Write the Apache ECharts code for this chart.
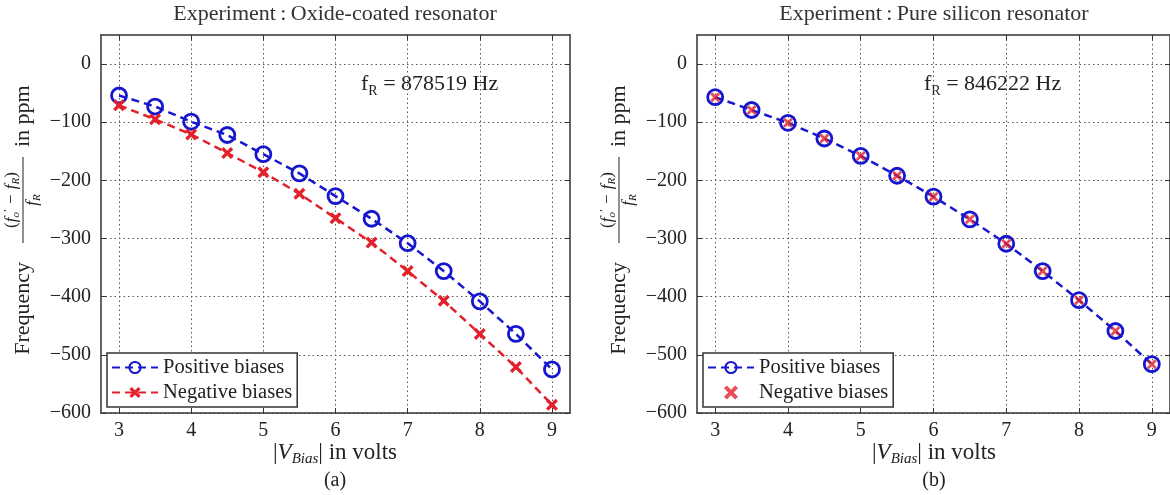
<!DOCTYPE html>
<html>
<head>
<meta charset="utf-8">
<script src="https://cdn.jsdelivr.net/npm/echarts@6/dist/echarts.min.js"></script>
<style>html,body{margin:0;padding:0;background:#fff}#c{width:1170px;height:495px}</style>
</head>
<body>
<div id="c"></div>
<script>
// ---- data ----
var vBias = [3, 3.5, 4, 4.5, 5, 5.5, 6, 6.5, 7, 7.5, 8, 8.5, 9];
var oxidePositive = [-54, -73, -99, -122, -155, -188, -227, -266, -308, -356, -408, -464, -525];
var oxideNegative = [-71, -95, -121, -153, -186, -223, -265, -307, -356, -407, -464, -521, -586];
var siliconPositive = [-57, -79, -101, -128, -158, -192, -228, -267, -309, -356, -406, -459, -516];
var siliconNegative = [-57, -79, -101, -128, -158, -192, -228, -267, -309, -356, -406, -459, -516];
var xTicks = [3, 4, 5, 6, 7, 8, 9];
var yTicks = [-600, -500, -400, -300, -200, -100, 0];
var titles = ['Experiment\u2009:\u2009Oxide-coated resonator', 'Experiment\u2009:\u2009Pure silicon resonator'];
var fRLabels = ['878519', '846222'];
var panelLabels = ['(a)', '(b)'];

// ---- styles ----
var FONT = 'Liberation Serif';
var BLUE = '#1616cf';
var RED = '#e3212a';
var XPATH = 'path://M0,2 L2,0 L5,3 L8,0 L10,2 L7,5 L10,8 L8,10 L5,7 L2,10 L0,8 L3,5 Z';
function pair(xs, ys) { return xs.map(function (x, i) { return [x, ys[i]]; }); }
function minus(v) { return String(v).replace('-', '\u2212'); }

var grids = [
  { left: 101, top: 35, width: 469, height: 378 },
  { left: 697, top: 35, width: 475, height: 378 }
];

var xAxes = [], yAxes = [];
grids.forEach(function (g, gi) {
  xAxes.push({
    type: 'value', gridIndex: gi, min: 2.75, max: 9.25, position: 'bottom',
    axisLine: { show: true, onZero: false, lineStyle: { color: '#333', width: 1.5 } },
    axisTick: { show: true, inside: true, length: 5, customValues: xTicks, lineStyle: { color: '#333' } },
    axisLabel: { customValues: xTicks, fontFamily: FONT, fontSize: 20, color: '#222', margin: 8 },
    splitLine: { show: true, lineStyle: { type: [1.5, 3], color: '#555', width: 1 } }
  });
  xAxes.push({
    type: 'value', gridIndex: gi, min: 2.75, max: 9.25, position: 'top',
    axisLine: { show: true, onZero: false, lineStyle: { color: '#333', width: 1.5 } },
    axisTick: { show: true, inside: true, length: 5, customValues: xTicks, lineStyle: { color: '#333' } },
    axisLabel: { show: false }, splitLine: { show: false }
  });
  yAxes.push({
    type: 'value', gridIndex: gi, min: -600, max: 50, position: 'left',
    axisLine: { show: true, onZero: false, lineStyle: { color: '#333', width: 1.5 } },
    axisTick: { show: true, inside: true, length: 5, customValues: yTicks, lineStyle: { color: '#333' } },
    axisLabel: { customValues: yTicks, fontFamily: FONT, fontSize: 20, color: '#222', margin: 10, formatter: minus },
    splitLine: { show: true, lineStyle: { type: [1.5, 3], color: '#555', width: 1 } }
  });
  yAxes.push({
    type: 'value', gridIndex: gi, min: -600, max: 50, position: 'right',
    axisLine: { show: true, onZero: false, lineStyle: { color: '#333', width: 1.5 } },
    axisTick: { show: true, inside: true, length: 5, customValues: yTicks, lineStyle: { color: '#333' } },
    axisLabel: { show: false }, splitLine: { show: false }
  });
});

function posSeries(name, gi, data) {
  return {
    name: name, type: 'line', xAxisIndex: gi * 2, yAxisIndex: gi * 2, data: pair(vBias, data),
    symbol: 'circle', symbolSize: 15, z: 3,
    lineStyle: { color: BLUE, width: 2.5, type: [8, 5] },
    itemStyle: { color: 'rgba(255,255,255,0)', borderColor: BLUE, borderWidth: 2.8 }
  };
}
function negSeries(name, gi, data, withLine) {
  var s = {
    name: name, type: withLine ? 'line' : 'scatter', xAxisIndex: gi * 2, yAxisIndex: gi * 2, data: pair(vBias, data),
    symbol: XPATH, symbolSize: withLine ? 12 : 10, z: 4,
    itemStyle: { color: RED }
  };
  if (withLine) s.lineStyle = { color: RED, width: 2.5, type: [8, 5] };
  return s;
}

var series = [
  posSeries('Positive biases', 0, oxidePositive),
  negSeries('Negative biases', 0, oxideNegative, true),
  posSeries('Positive biases ', 1, siliconPositive),
  negSeries('Negative biases ', 1, siliconNegative, false)
];

function legend(left, names) {
  return {
    left: left, top: 353, orient: 'vertical', data: names,
    itemWidth: 46, itemHeight: 14, itemGap: 4, padding: [4, 5, 4, 4],
    borderColor: '#333', borderWidth: 1.5, backgroundColor: '#fff', selectedMode: false,
    textStyle: { fontFamily: FONT, fontSize: 20.5, color: '#222' },
    formatter: function (n) { return n.trim(); }
  };
}

var graphic = [];
var centers = [335, 934];
var yLabelX = [23, 619];
grids.forEach(function (g, gi) {
  graphic.push({ type: 'text', x: centers[gi], y: 14, style: { text: titles[gi], font: '22px ' + FONT, fill: '#333', align: 'center', verticalAlign: 'middle' } });
  graphic.push({ type: 'text', x: centers[gi], y: 453, style: {
    text: '|{i|V}{s|Bias}| in volts', font: '23px ' + FONT, fill: '#222', align: 'center', verticalAlign: 'middle',
    rich: { i: { fontFamily: FONT, fontSize: 23, fontStyle: 'italic', lineHeight: 27 }, s: { fontFamily: FONT, fontSize: 15, fontStyle: 'italic', verticalAlign: 'bottom', lineHeight: 27 } } } });
  graphic.push({ type: 'text', x: centers[gi], y: 481, style: { text: panelLabels[gi], font: '20px ' + FONT, fill: '#222', align: 'center', verticalAlign: 'middle' } });
  graphic.push({ type: 'text', x: gi ? 924 : 361, y: 84, style: {
    text: 'f{s|R} = ' + fRLabels[gi] + ' Hz', font: '22px ' + FONT, fill: '#222', align: 'left', verticalAlign: 'middle',
    rich: { s: { fontFamily: FONT, fontSize: 14, verticalAlign: 'bottom', lineHeight: 28 } } } });
  graphic.push({
    type: 'group', x: yLabelX[gi], y: 219, rotation: Math.PI / 2,
    children: [
      { type: 'text', x: -43, y: 0, style: { text: 'Frequency', font: '22px ' + FONT, fill: '#222', align: 'right', verticalAlign: 'middle' } },
      { type: 'text', x: 19, y: -11, style: {
        text: '({i|f}{s|o}{p|\u2032}{i| \u2212 f}{s|R})', font: '17px ' + FONT, fill: '#222', align: 'center', verticalAlign: 'middle',
        rich: { i: { fontFamily: FONT, fontSize: 17, fontStyle: 'italic', lineHeight: 20 }, s: { fontFamily: FONT, fontSize: 11, fontStyle: 'italic', verticalAlign: 'bottom', lineHeight: 20 }, p: { fontFamily: FONT, fontSize: 13, verticalAlign: 'top', lineHeight: 20 } } } },
      { type: 'line', shape: { x1: -24, y1: 0, x2: 62, y2: 0 }, style: { stroke: '#222', lineWidth: 1 } },
      { type: 'text', x: 19, y: 10, style: {
        text: '{i|f}{s|R}', font: '17px ' + FONT, fill: '#222', align: 'center', verticalAlign: 'middle',
        rich: { i: { fontFamily: FONT, fontSize: 17, fontStyle: 'italic', lineHeight: 20 }, s: { fontFamily: FONT, fontSize: 11, fontStyle: 'italic', verticalAlign: 'bottom', lineHeight: 20 } } } },
      { type: 'text', x: 72, y: 0, style: { text: 'in ppm', font: '22px ' + FONT, fill: '#222', align: 'left', verticalAlign: 'middle' } }
    ]
  });
});

var chart = echarts.init(document.getElementById('c'), null, { renderer: 'canvas' });
chart.setOption({
  backgroundColor: '#fff',
  animation: false,
  grid: grids,
  xAxis: xAxes,
  yAxis: yAxes,
  legend: [legend(107, ['Positive biases', 'Negative biases']), legend(703, ['Positive biases ', 'Negative biases '])],
  series: series,
  graphic: graphic
});
</script>
</body>
</html>
